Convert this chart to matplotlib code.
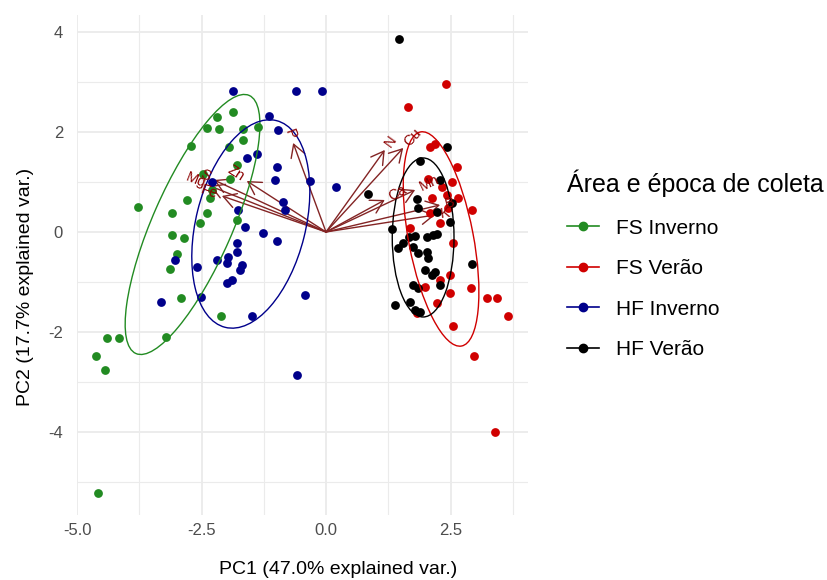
import numpy as np
import matplotlib
matplotlib.use("Agg")
import matplotlib.pyplot as plt
from matplotlib.lines import Line2D
from matplotlib.patches import Ellipse

plt.rcParams['font.family'] = ['Liberation Sans', 'DejaVu Sans']

# PCA scores per group
groups = ["FS Inverno", "FS Verão", "HF Inverno", "HF Verão"]
colors = ["#228B22", "#D00000", "#00008B", "#000000"]

fs_inv_pc1 = [-1.87, -2.19, -2.39, -2.15, -1.67, -1.37, -2.71, -1.95, -1.67, -1.79, -2.47,
              -1.93, -2.79, -2.33, -3.09, -2.39, -2.53, -1.79, -2.85, -3.09, -2.99, -3.13,
              -2.91, -2.11, -3.21, -4.16, -4.40, -4.62, -4.44, -4.58, -3.78, -2.29]
fs_inv_pc2 = [2.40, 2.30, 2.08, 2.06, 2.06, 2.10, 1.72, 1.70, 1.84, 1.34, 1.16,
              1.06, 0.64, 0.68, 0.38, 0.38, 0.18, 0.24, -0.12, -0.06, -0.44, -0.74,
              -1.32, -1.68, -2.10, -2.12, -2.12, -2.48, -2.76, -5.22, 0.50, 0.84]

fs_ver_pc1 = [2.41, 1.65, 2.09, 2.19, 2.63, 2.05, 2.33, 2.53, 2.65, 2.13, 2.43, 2.93,
              2.09, 1.69, 2.29, 2.55, 2.49, 2.29, 1.99, 2.49, 2.23, 1.83, 2.55, 2.91,
              3.23, 3.43, 3.65, 2.97, 3.39, 2.45]
fs_ver_pc2 = [2.96, 2.50, 1.70, 1.76, 1.30, 1.06, 0.90, 1.00, 0.68, 0.68, 0.74, 0.44,
              0.38, 0.08, 0.18, -0.22, -0.86, -0.96, -1.10, -1.22, -1.42, -1.62, -1.88, -1.12,
              -1.32, -1.32, -1.68, -2.48, -4.00, 0.48]

hf_inv_pc1 = [-1.87, -0.60, -0.08, -1.14, -0.96, -1.39, -1.59, -0.98, -1.02, -0.32, 0.20,
              -2.29, -0.86, -0.82, -1.77, -1.63, -1.27, -0.98, -1.79, -1.79, -3.03, -2.19,
              -1.97, -1.99, -1.69, -1.73, -2.59, -1.99, -1.89, -2.51, -0.42, -1.49, -0.58, -3.31]
hf_inv_pc2 = [2.82, 2.82, 2.82, 2.32, 2.04, 1.56, 1.48, 1.30, 1.04, 1.02, 0.90,
              1.00, 0.60, 0.44, 0.44, 0.10, -0.02, -0.18, -0.22, -0.40, -0.56, -0.56,
              -0.50, -0.62, -0.66, -0.76, -0.70, -1.02, -0.96, -1.30, -1.26, -1.68, -2.86, -1.40]

hf_ver_pc1 = [1.47, 2.43, 1.89, 0.84, 1.83, 1.85, 2.23, 2.49, 1.33, 1.67, 1.79, 1.55,
              1.45, 2.03, 2.15, 2.23, 1.75, 1.85, 2.03, 2.05, 1.99, 2.19, 2.13, 2.93,
              1.75, 1.85, 2.29, 1.69, 1.39, 1.79, 1.89, 2.29, 2.53]
hf_ver_pc2 = [3.86, 1.70, 1.42, 0.76, 0.66, 0.48, 0.40, 0.20, 0.06, -0.10, -0.08, -0.22,
              -0.32, -0.10, -0.06, -0.04, -0.30, -0.42, -0.40, -0.52, -0.76, -0.80, -0.86, -0.64,
              -1.06, -1.12, -1.06, -1.40, -1.46, -1.56, -1.60, 1.04, 0.58]

scores = [(fs_inv_pc1, fs_inv_pc2), (fs_ver_pc1, fs_ver_pc2),
          (hf_inv_pc1, hf_inv_pc2), (hf_ver_pc1, hf_ver_pc2)]

# 68% ellipses: centre, semi-axes and rotation (deg)
ell_cx = [-2.68, 2.31, -1.51, 1.95]
ell_cy = [0.15, -0.14, 0.16, -0.11]
ell_major = [2.82, 2.18, 2.13, 1.59]
ell_minor = [0.80, 0.65, 1.10, 0.62]
ell_angle = [66.2, 100.9, 76.0, 90.0]

# variable loadings
var_names = ["Mg", "S", "Fe", "Zn", "P", "N", "Cu", "Ca", "Mn", "B", "K"]
var_pc1 = [-2.33, -2.25, -2.09, -1.59, -0.66, 1.18, 1.55, 1.18, 1.79, 2.29, 2.19]
var_pc2 = [0.92, 1.04, 0.72, 1.02, 1.78, 1.64, 1.68, 0.64, 0.84, 0.54, 0.34]

fig = plt.figure(figsize=(8.28, 5.8), dpi=100)
ax = fig.add_axes([0.0930, 0.1121, 0.5447, 0.8621])

# arrows for the variables
for x, y in zip(var_pc1, var_pc2):
    ax.annotate("", xy=(x, y), xytext=(0, 0), zorder=2,
                arrowprops=dict(arrowstyle="->,head_length=0.5,head_width=0.29",
                                color="#832424", lw=1.0, shrinkA=0, shrinkB=0,
                                mutation_scale=18))

for (px, py), c in zip(scores, colors):
    ax.scatter(px, py, s=40, color=c, linewidths=0, zorder=3)

for cx, cy, a, b, ang, c in zip(ell_cx, ell_cy, ell_major, ell_minor, ell_angle, colors):
    ax.add_patch(Ellipse((cx, cy), 2 * a, 2 * b, angle=ang, fill=False,
                         edgecolor=c, lw=1.0, zorder=4))

# variable names just past the arrow tips, rotated along the arrow
for name, x, y in zip(var_names, var_pc1, var_pc2):
    r = np.hypot(x, y)
    off = 0.1
    ang = np.degrees(np.arctan(y / x))
    ax.text(x + off * x / r, y + off * y / r, name, rotation=ang, rotation_mode="anchor",
            ha="left" if x > 0 else "right", va="center", color="#8B0000",
            fontsize=10.5, zorder=5)

ax.set_xlim(-5.0, 4.056)
ax.set_ylim(-5.66, 4.34)
ax.set_xticks([-5, -2.5, 0, 2.5])
ax.set_xticklabels(["-5.0", "-2.5", "0.0", "2.5"])
ax.set_xticks([-3.75, -1.25, 1.25, 3.75], minor=True)
ax.set_yticks([-4, -2, 0, 2, 4])
ax.set_yticklabels(["-4", "-2", "0", "2", "4"])
ax.set_yticks([-5, -3, -1, 1, 3], minor=True)
ax.grid(True, which="major", color="#ebebeb", lw=1.3)
ax.grid(True, which="minor", color="#ebebeb", lw=0.8)
ax.set_axisbelow(True)
for s in ax.spines.values():
    s.set_visible(False)
ax.tick_params(which="both", length=0, labelsize=12, labelcolor="#4d4d4d")
ax.tick_params(axis="y", pad=10)
ax.tick_params(axis="x", pad=6)

ax.set_xlabel("PC1 (47.0% explained var.)", fontsize=14)
ax.set_ylabel("PC2 (17.7% explained var.)", fontsize=14)
ax.xaxis.set_label_coords((338 - 77) / 451, -0.093)
ax.yaxis.set_label_coords(-0.095, (515 - 287) / 500)

handles = [Line2D([0], [0], color=c, lw=1.2, marker="o", markersize=6) for c in colors]
leg = fig.legend(handles, groups, title="Área e época de coleta", loc="upper left",
                 bbox_to_anchor=(548 / 828, 1 - 151 / 580), frameon=False,
                 fontsize=15, title_fontsize=18, handlelength=1.55,
                 handletextpad=0.8, labelspacing=1.03)
leg._legend_box.align = "left"

fig.savefig("out.png", dpi=100)
